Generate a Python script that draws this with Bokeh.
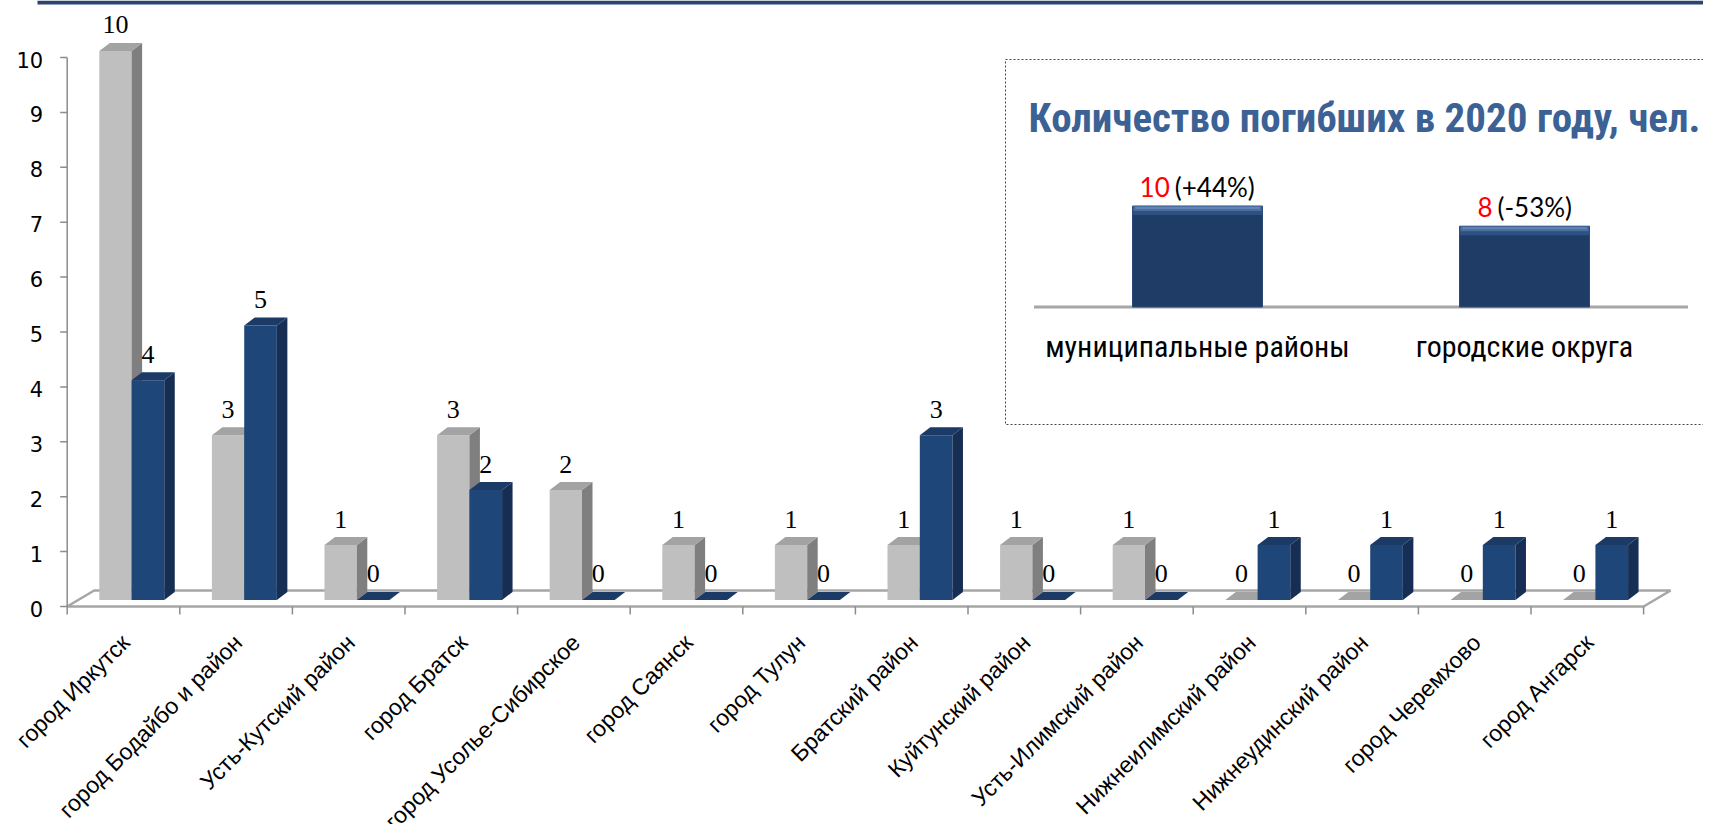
import math
from bokeh.plotting import figure
from bokeh.models import Range1d
from bokeh.core.properties import value
from bokeh.embed import file_html
from bokeh.resources import INLINE

# ---------------- data ----------------
categories = ["город Иркутск", "город Бодайбо и район", "Усть-Кутский район", "город Братск",
              "город Усолье-Сибирское", "город Саянск", "город Тулун", "Братский район",
              "Куйтунский район", "Усть-Илимский район", "Нижнеилимский район",
              "Нижнеудинский район", "город Черемхово", "город Ангарск"]
values_2019 = [10, 3, 1, 3, 2, 1, 1, 1, 1, 1, 0, 0, 0, 0]
values_2020 = [4, 5, 0, 2, 0, 0, 0, 3, 0, 0, 1, 1, 1, 1]
y_ticks = [0, 1, 2, 3, 4, 5, 6, 7, 8, 9, 10]

inset_title = "Количество погибших в 2020 году, чел."
inset_groups = ["муниципальные районы", "городские округа"]
inset_values = [10, 8]
inset_changes = ["(+44%)", "(-53%)"]

# ---------------- layout constants ----------------
W, H = 1703, 824
XU = 112.6            # px per category
YU = 54.9             # px per unit
X0PX, Y0PX = 66.7, 606.0   # canvas position of (0,0)
IXU, IYU = 327.0, 10.1     # inset px per unit
IX0, IY0 = 1197.0, 306.5   # canvas position of inset (0,0)

x_start = -X0PX / XU
y_end = Y0PX / YU
y_start = -(H - Y0PX) / YU

p = figure(width=W, height=H, output_backend="svg", toolbar_location=None,
           x_range=Range1d(x_start, x_start + W / XU), y_range=Range1d(y_start, y_end),
           x_axis_type=None, y_axis_type=None, min_border=0, outline_line_color=None,
           background_fill_color="white", border_fill_color="white")
p.extra_x_ranges = {"px": Range1d(0, W),
                    "ix": Range1d(-IX0 / IXU, (W - IX0) / IXU)}
p.extra_y_ranges = {"py": Range1d(H, 0),
                    "iy": Range1d(-(H - IY0) / IYU, IY0 / IYU)}

GRAY_F, GRAY_S, GRAY_T = "#BFBFBF", "#7F7F7F", "#A3A3A3"
BLUE_F, BLUE_S, BLUE_T = "#1F4678", "#162E53", "#1B3A66"
AX = "#8C8C8C"

# header strip
p.quad(left=[37], right=[W], top=[0], bottom=[4], x_range_name="px", y_range_name="py",
       fill_color="#2B4570", line_color=None)

n = len(categories)
# floor
FDX, FDY = 27 / XU, 16 / YU
p.patch([0, n, n + FDX, FDX], [0, 0, FDY, FDY], fill_color="white",
        line_color="#A6A6A6", line_width=2.5)

# y axis
p.segment(x0=[0], y0=[0], x1=[0], y1=[max(y_ticks)], line_color=AX, line_width=1.5)
p.segment(x0=[0] * len(y_ticks), y0=y_ticks, x1=[-7 / XU] * len(y_ticks), y1=y_ticks,
          line_color=AX, line_width=1.5)
p.text(x=[0] * len(y_ticks), y=y_ticks, text=[str(t) for t in y_ticks],
       text_align="right", text_baseline="middle", x_offset=-24, y_offset=2,
       text_font=value("DejaVu Sans"), text_font_size="21px", text_color="black")

# x axis ticks
xb = list(range(n + 1))
p.segment(x0=xb, y0=[0] * len(xb), x1=xb, y1=[-8 / YU] * len(xb), line_color=AX, line_width=1.5)

# 3D bars
B = 0.12
DX, DY = 10.5 / XU, 8 / YU
G0, G1, B1 = 0.285, 0.572, 0.862


def draw_series(vals, a, b, cf, cs, ct):
    left = [i + a for i in range(n)]
    right = [i + b for i in range(n)]
    nz = [i for i in range(n) if vals[i] > 0]
    p.quad(left=[left[i] for i in nz], right=[right[i] for i in nz],
           bottom=[B] * len(nz), top=[vals[i] + B for i in nz], fill_color=cf, line_color=None)
    p.patches([[right[i], right[i] + DX, right[i] + DX, right[i]] for i in nz],
              [[B, B + DY, vals[i] + B + DY, vals[i] + B] for i in nz],
              fill_color=cs, line_color=None)
    p.patches([[left[i], left[i] + DX, right[i] + DX, right[i]] for i in range(n)],
              [[vals[i] + B, vals[i] + B + DY, vals[i] + B + DY, vals[i] + B] for i in range(n)],
              fill_color=ct, line_color=None)
    p.text(x=[(l + r) / 2 for l, r in zip(left, right)], y=[v + B + DY for v in vals],
           text=[str(v) for v in vals], text_align="center", text_baseline="middle",
           y_offset=-18, text_font=value("Liberation Serif"), text_font_size="26px",
           text_color="black")


draw_series(values_2019, G0, G1, GRAY_F, GRAY_S, GRAY_T)
draw_series(values_2020, G1, B1, BLUE_F, BLUE_S, BLUE_T)

# category labels
p.text(x=[i + 0.5 for i in range(n)], y=[0] * n, text=categories, angle=math.pi / 4,
       text_align="right", text_baseline="middle", x_offset=2, y_offset=32,
       text_font=value("Liberation Sans"), text_font_size="23px", text_color="black")

# ---------------- inset ----------------
NARROW = "Roboto Condensed"
p.quad(left=[1005], right=[W + 5], top=[59], bottom=[424], x_range_name="px", y_range_name="py",
       fill_color=None, line_color="#444444", line_width=1, line_dash="2 2")
p.text(x=[1364], y=[117], text=[inset_title], x_range_name="px", y_range_name="py",
       text_align="center", text_baseline="middle", text_font=value(NARROW),
       text_font_style="bold", text_font_size="41px", text_color="#3B6195")

ix = list(range(len(inset_groups)))
bw = 130 / IXU
p.segment(x0=[-0.5], y0=[0], x1=[len(ix) - 0.5], y1=[0], x_range_name="ix", y_range_name="iy",
          line_color="#A6A6A6", line_width=3)
p.vbar(x=ix, top=inset_values, bottom=0, width=bw, x_range_name="ix", y_range_name="iy",
       fill_color="#1F3C66", line_color="#2A4A78", line_width=1)
# bevel highlight (lighter band fading into the bar)
p.vbar(x=ix, top=inset_values, bottom=[v - 9 / IYU for v in inset_values], width=bw,
       x_range_name="ix", y_range_name="iy", fill_color="#2E5184", line_color=None)
p.vbar(x=ix, top=inset_values, bottom=[v - 5 / IYU for v in inset_values], width=bw - 2 / IXU,
       x_range_name="ix", y_range_name="iy", fill_color="#4A6E9F", line_color=None)
p.vbar(x=ix, top=[v - 1 / IYU for v in inset_values], bottom=[v - 3 / IYU for v in inset_values],
       width=bw - 6 / IXU, x_range_name="ix", y_range_name="iy", fill_color="#6485B3", line_color=None)

VF = "Lato"
CW = {"0": .58, "1": .58, "2": .58, "3": .58, "4": .58, "5": .58, "6": .58, "7": .58,
      "8": .58, "9": .58, " ": .193, "(": .29, ")": .29, "+": .58, "-": .33, "%": .78}
FS = 26


def tw(s):
    return sum(CW.get(c, .58) for c in s) * FS


nums = [str(v) for v in inset_values]
red_off, blk_off = [], []
for s, c in zip(nums, inset_changes):
    total = tw(s) + tw(" ") + tw(c)
    red_off.append(-total / 2 + tw(s))
    blk_off.append(-total / 2 + tw(s) + tw(" "))
for i in ix:
    p.text(x=[i], y=[inset_values[i]], text=[nums[i]], x_range_name="ix", y_range_name="iy",
           text_align="right", text_baseline="middle", x_offset=red_off[i], y_offset=-19,
           text_font=value(VF), text_font_size=f"{FS}px", text_color="#FF0000")
    p.text(x=[i], y=[inset_values[i]], text=[inset_changes[i]], x_range_name="ix", y_range_name="iy",
           text_align="left", text_baseline="middle", x_offset=blk_off[i], y_offset=-19,
           text_font=value(VF), text_font_size=f"{FS}px", text_color="black")
p.text(x=ix, y=[0] * len(ix), text=inset_groups, x_range_name="ix", y_range_name="iy",
       text_align="center", text_baseline="middle", y_offset=39,
       text_font=value(NARROW), text_font_size="30px", text_color="black")

open("out.html", "w").write(file_html(p, INLINE))
